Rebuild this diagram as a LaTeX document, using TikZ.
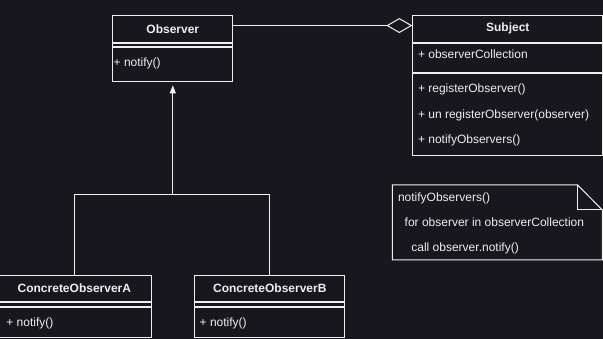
\documentclass[tikz,border=0pt]{standalone}
\usepackage{fontspec}
\setmainfont{Liberation Sans}
\usetikzlibrary{arrows.meta}
\definecolor{bgdark}{RGB}{25,23,30}
\definecolor{umlline}{RGB}{240,240,240}
\definecolor{umltext}{RGB}{238,238,238}
\begin{document}
\begin{tikzpicture}[
  x=1pt, y=-1pt,
  font=\fontsize{12}{14}\selectfont,
  uml/.style={draw=umlline, line width=1pt, inner sep=0pt, anchor=north west, text=umltext},
  head/.style={uml, font=\fontsize{12}{14}\selectfont\bfseries},
  member/.style={anchor=west, inner sep=0pt, text=umltext},
  line/.style={draw=umlline, line width=1pt},
  inh/.style={line, -{Triangle[width=6pt,length=8pt]}, shorten >=3pt},
  agg/.style={line, -{Diamond[open,width=15pt,length=26pt]}}
]
\fill[bgdark] (0,0) rectangle (603,339);
\useasboundingbox (0,0) rectangle (603,339);

% Observer
\node[head, minimum width=120, minimum height=26.7] (obs) at (112.3,15) {Observer};
\node[uml, minimum width=120, minimum height=3.6] (obsattr) at (obs.south west) {};
\node[uml, minimum width=120, minimum height=34] (obsops) at (obsattr.south west) {};
\node[member] (obsnotify) at (113.5,63.3) {+ notify()};

% Subject
\node[head, minimum width=190, minimum height=26.7] (subj) at (412.3,15) {Subject};
\node[uml, minimum width=190, minimum height=29.3] (subjattr) at (subj.south west) {};
\node[uml, minimum width=190, minimum height=82.3] (subjops) at (subjattr.south west) {};
\node[member] (subjcoll) at (417.8,54.3) {+ observerCollection};
\node[member] (subjreg) at (417.8,89.3) {+ registerObserver()};
\node[member] (subjunreg) at (417.8,115) {+ un registerObserver(observer)};
\node[member] (subjnotify) at (417.8,140.7) {+ notifyObservers()};

% concrete observers
\node[head, minimum width=153.7, minimum height=25.7] (cona) at (-3,275.3) {ConcreteObserverA};
\node[uml, minimum width=153.7, minimum height=4] (conaattr) at (cona.south west) {};
\node[uml, minimum width=153.7, minimum height=30.3] (conaops) at (conaattr.south west) {};
\node[member] (conanotify) at (6.2,323.3) {+ notify()};

\node[head, minimum width=150, minimum height=25.7] (conb) at (194.3,275.3) {ConcreteObserverB};
\node[uml, minimum width=150, minimum height=4] (conbattr) at (conb.south west) {};
\node[uml, minimum width=150, minimum height=30.3] (conbops) at (conbattr.south west) {};
\node[member] (conbnotify) at (199.5,323.3) {+ notify()};

% note
\draw[line] (392.3,185) -- (577.7,185) -- (602.3,210) -- (602.3,260) -- (392.3,260) -- cycle;
\draw[line] (577.7,185) -- (577.7,210) -- (602.3,210);
\node[member] (notehead) at (397.8,198.3) {notifyObservers()};
\node[member] (noteloop) at (404.5,222.7) {for observer in observerCollection};
\node[member] (notecall) at (411.2,248.3) {call observer.notify()};

% connectors
\coordinate (junc) at (obs.south |- 0,195);
\draw[agg] ([yshift=3.3pt]obs.east) -- ([yshift=3.3pt]subj.west);
\draw[line] (cona.north) |- (conb.north |- junc) -- (conb.north);
\draw[inh] (junc) -- (obsops.south);
\end{tikzpicture}
\end{document}
